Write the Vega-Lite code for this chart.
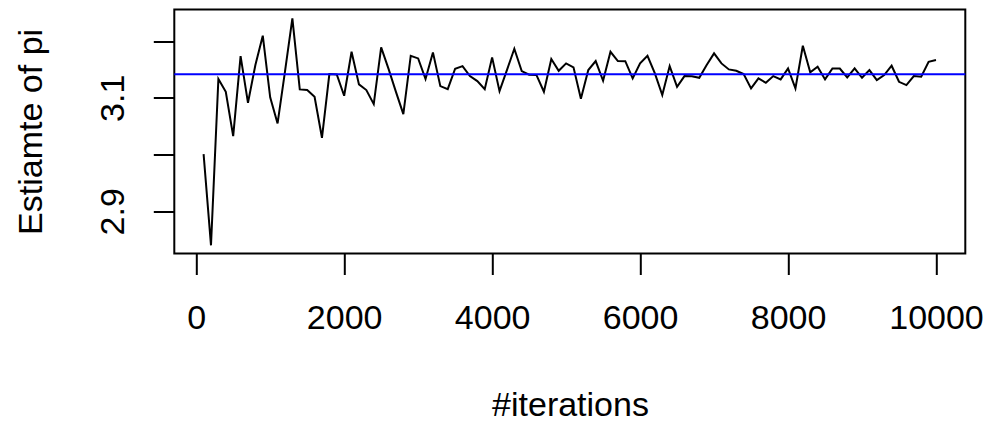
{
  "$schema": "https://vega.github.io/schema/vega-lite/v6.json",
  "width": 791,
  "height": 244,
  "autosize": {"type": "none"},
  "padding": {"left": 174.3, "top": 9.5, "right": 24.7, "bottom": 167.5},
  "background": "white",
  "config": {
    "view": {"stroke": "black", "strokeWidth": 2},
    "font": "Liberation Sans",
    "axis": {
      "labelFont": "Liberation Sans",
      "titleFont": "Liberation Sans",
      "labelFontSize": 34,
      "titleFontSize": 34,
      "labelColor": "black",
      "titleColor": "black",
      "titleFontWeight": "normal",
      "tickColor": "black",
      "tickWidth": 2,
      "tickSize": 21,
      "domain": false,
      "grid": false,
      "labelOverlap": false,
      "labelFlush": false,
      "labelBound": false
    }
  },
  "datasets": {
    "est": [
      {"n": 100, "est": 3.0007}, {"n": 200, "est": 2.840}, {"n": 300, "est": 3.133}, {"n": 400, "est": 3.1106},
      {"n": 500, "est": 3.0325}, {"n": 600, "est": 3.1735}, {"n": 700, "est": 3.0912}, {"n": 800, "est": 3.1577},
      {"n": 900, "est": 3.2094}, {"n": 1000, "est": 3.1007}, {"n": 1100, "est": 3.0548}, {"n": 1200, "est": 3.146},
      {"n": 1300, "est": 3.240}, {"n": 1400, "est": 3.1148}, {"n": 1500, "est": 3.1136}, {"n": 1600, "est": 3.1018},
      {"n": 1700, "est": 3.0295}, {"n": 1800, "est": 3.1418}, {"n": 1900, "est": 3.1412}, {"n": 2000, "est": 3.1036},
      {"n": 2100, "est": 3.1811}, {"n": 2200, "est": 3.1236}, {"n": 2300, "est": 3.1136}, {"n": 2400, "est": 3.0889},
      {"n": 2500, "est": 3.1889}, {"n": 2600, "est": 3.151}, {"n": 2700, "est": 3.1105}, {"n": 2800, "est": 3.0713},
      {"n": 2900, "est": 3.1741}, {"n": 3000, "est": 3.1694}, {"n": 3100, "est": 3.133}, {"n": 3200, "est": 3.180},
      {"n": 3300, "est": 3.1206}, {"n": 3400, "est": 3.1153}, {"n": 3500, "est": 3.1512}, {"n": 3600, "est": 3.1559},
      {"n": 3700, "est": 3.1383}, {"n": 3800, "est": 3.1295}, {"n": 3900, "est": 3.1153}, {"n": 4000, "est": 3.1712},
      {"n": 4100, "est": 3.1118}, {"n": 4200, "est": 3.1489}, {"n": 4300, "est": 3.1864}, {"n": 4400, "est": 3.147},
      {"n": 4500, "est": 3.1406}, {"n": 4600, "est": 3.140}, {"n": 4700, "est": 3.1106}, {"n": 4800, "est": 3.1683},
      {"n": 4900, "est": 3.1476}, {"n": 5000, "est": 3.1606}, {"n": 5100, "est": 3.1536}, {"n": 5200, "est": 3.0982},
      {"n": 5300, "est": 3.1489}, {"n": 5400, "est": 3.1647}, {"n": 5500, "est": 3.130}, {"n": 5600, "est": 3.1811},
      {"n": 5700, "est": 3.1647}, {"n": 5800, "est": 3.1645}, {"n": 5900, "est": 3.1342}, {"n": 6000, "est": 3.1606},
      {"n": 6100, "est": 3.174}, {"n": 6200, "est": 3.143}, {"n": 6300, "est": 3.1048}, {"n": 6400, "est": 3.1559},
      {"n": 6500, "est": 3.1194}, {"n": 6600, "est": 3.1383}, {"n": 6700, "est": 3.1381}, {"n": 6800, "est": 3.1353},
      {"n": 6900, "est": 3.1577}, {"n": 7000, "est": 3.1783}, {"n": 7100, "est": 3.1606}, {"n": 7200, "est": 3.150},
      {"n": 7300, "est": 3.1476}, {"n": 7400, "est": 3.1418}, {"n": 7500, "est": 3.1166}, {"n": 7600, "est": 3.1342},
      {"n": 7700, "est": 3.1265}, {"n": 7800, "est": 3.1383}, {"n": 7900, "est": 3.1324}, {"n": 8000, "est": 3.1518},
      {"n": 8100, "est": 3.1166}, {"n": 8200, "est": 3.1917}, {"n": 8300, "est": 3.1448}, {"n": 8400, "est": 3.1547},
      {"n": 8500, "est": 3.1324}, {"n": 8600, "est": 3.1518}, {"n": 8700, "est": 3.1516}, {"n": 8800, "est": 3.136},
      {"n": 8900, "est": 3.1518}, {"n": 9000, "est": 3.1353}, {"n": 9100, "est": 3.1489}, {"n": 9200, "est": 3.1312},
      {"n": 9300, "est": 3.140}, {"n": 9400, "est": 3.1565}, {"n": 9500, "est": 3.1282}, {"n": 9600, "est": 3.1224},
      {"n": 9700, "est": 3.1383}, {"n": 9800, "est": 3.137}, {"n": 9900, "est": 3.1635}, {"n": 10000, "est": 3.1665}
    ],
    "pi": [{"value": 3.14159}]
  },
  "layer": [
    {
      "data": {"name": "est"},
      "mark": {"type": "line", "color": "black", "strokeWidth": 2, "clip": true},
      "encoding": {
        "x": {
          "field": "n", "type": "quantitative",
          "scale": {"domain": [-296, 10396], "nice": false, "zero": false},
          "axis": {
            "values": [0, 2000, 4000, 6000, 8000, 10000],
            "format": "d",
            "title": "#iterations",
            "labelPadding": 27,
            "labelBaseline": "top",
            "titleX": 395.7,
            "titleY": 161.5,
            "titleAlign": "center",
            "titleBaseline": "alphabetic"
          }
        },
        "y": {
          "field": "est", "type": "quantitative",
          "scale": {"domain": [2.8256, 3.2556], "nice": false, "zero": false},
          "axis": {
            "values": [2.9, 3.0, 3.1, 3.2],
            "format": ".1f",
            "labelExpr": "(datum.label == '2.9' || datum.label == '3.1') ? datum.label : ''",
            "labelAngle": 270,
            "labelAlign": "center",
            "labelBaseline": "alphabetic",
            "labelPadding": 30,
            "title": "Estiamte of pi",
            "titleAngle": 270,
            "titleX": -132.6,
            "titleY": 121.9,
            "titleAlign": "center",
            "titleBaseline": "alphabetic"
          }
        }
      }
    },
    {
      "data": {"name": "pi"},
      "mark": {"type": "rule", "color": "#0000FF", "strokeWidth": 2},
      "encoding": {"y": {"field": "value", "type": "quantitative"}}
    }
  ]
}
